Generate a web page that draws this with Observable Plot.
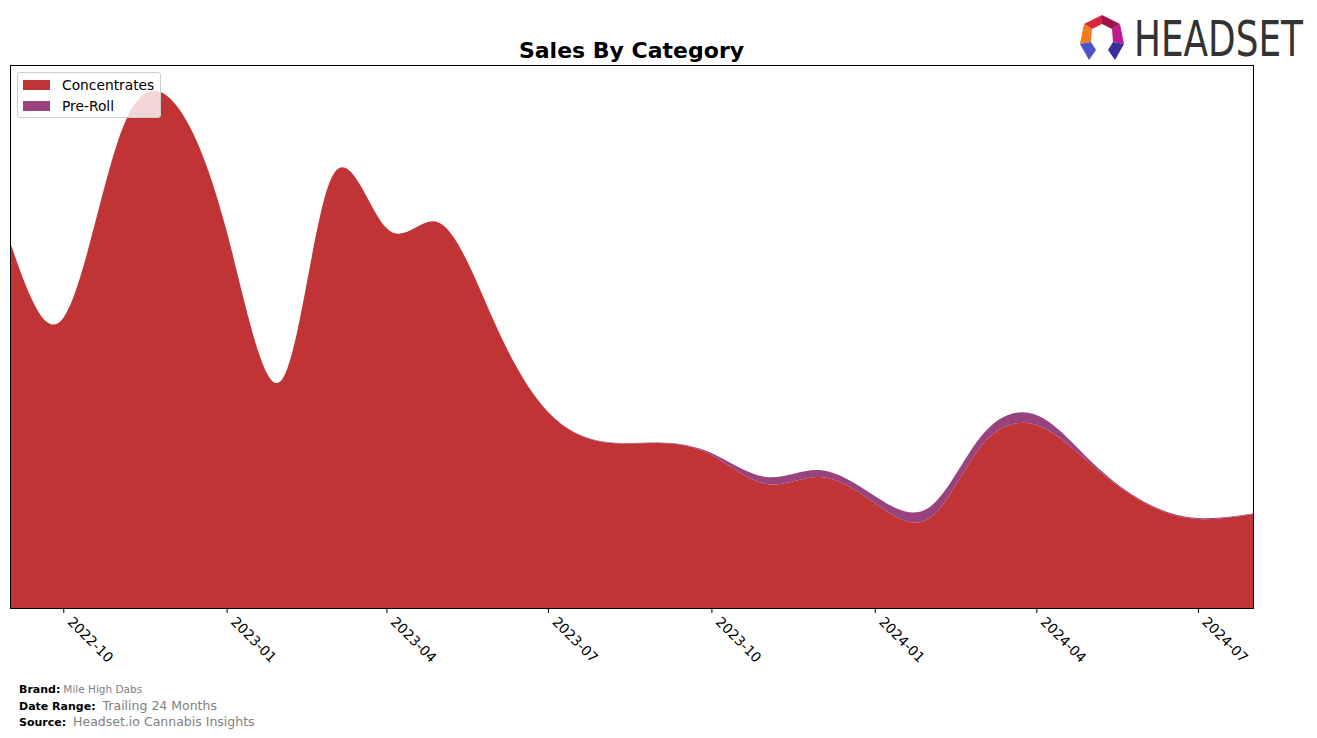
<!DOCTYPE html>
<html>
<head>
<meta charset="utf-8">
<script src="https://cdn.jsdelivr.net/npm/d3@7"></script>
<script src="https://cdn.jsdelivr.net/npm/@observablehq/plot@0.6"></script>
<style>
  html, body { margin: 0; padding: 0; background: #fff; }
  #wrap { position: relative; width: 1317px; height: 738px; font-family: "DejaVu Sans", sans-serif; overflow: hidden; }
  #chart { position: absolute; left: 0; top: 0; }
  #title { position: absolute; left: 10px; width: 1243px; top: 38px; text-align: center; font-weight: bold; font-size: 22px; color: #000; }
  #legend { position: absolute; left: 17px; top: 72px; width: 142px; height: 44px; background: rgba(255,255,255,0.8); border: 1px solid #ccc; border-radius: 3px; font-size: 13.8px; }
  .li { position: absolute; left: 5px; height: 16px; line-height: 16px; white-space: nowrap; }
  .sw { display: inline-block; width: 27px; height: 10px; vertical-align: middle; margin-right: 12px; position: relative; top: -1px; }
  #footer { position: absolute; left: 19px; top: 682px; font-size: 11px; line-height: 15.5px; }
  #footer b { color: #000; margin-right: 3px; }
  .g { color: #808080; }
  #logo { position: absolute; left: 1075px; top: 4px; }
</style>
</head>
<body>
<div id="wrap">
  <div id="chart"></div>
  <div id="title">Sales By Category</div>
  <div id="legend"></div>
  <div id="footer">
    <div><b>Brand:</b><span class="g" style="font-size:10.5px">Mile High Dabs</span></div>
    <div><b>Date Range:</b><span class="g" style="font-size:12.5px"> Trailing 24 Months</span></div>
    <div><b>Source:</b><span class="g" style="font-size:12.5px"> Headset.io Cannabis Insights</span></div>
  </div>
  <svg id="logo" width="240" height="64" viewBox="1075 4 240 64">
    <polygon points="1084,24 1102,15 1102,24 1092,29" fill="#d8263a"/>
    <polygon points="1102,15 1120,24 1112,29 1102,24" fill="#a0124a"/>
    <polygon points="1084,24 1092,29 1091,42 1080,44" fill="#f47a20"/>
    <polygon points="1120,24 1112,29 1113,42 1124,44" fill="#c01a8c"/>
    <polygon points="1080,44 1091,42 1096,50 1089,60" fill="#4a52c8"/>
    <polygon points="1124,44 1113,42 1108,50 1115,60" fill="#3b2f9e"/>
    <g transform="translate(1134,56) scale(1,1.24)">
      <text x="0" y="0" font-family="DejaVu Sans Condensed, DejaVu Sans" font-size="40" fill="#333" textLength="169" lengthAdjust="spacingAndGlyphs">HEADSET</text>
    </g>
  </svg>
</div>
<script>
const months = ["2022-09","2022-10","2022-11","2022-12","2023-01","2023-02","2023-03","2023-04","2023-05","2023-06","2023-07","2023-08","2023-09","2023-10","2023-11","2023-12","2024-01","2024-02","2024-03","2024-04","2024-05","2024-06","2024-07","2024-08"];
const concentrates = [366, 290, 468, 508, 377, 228, 430, 380, 385, 285, 196, 166, 165, 153, 124, 131, 105, 90, 162, 183, 145, 105, 89, 94];
const preRoll = [0, 0, 0, 0, 0, 0, 0, 0, 0, 0, 0, 0.5, 0.5, 2, 7, 7, 7, 11, 10, 10, 3, 1, 1, 0.5];
const categories = ["Concentrates", "Pre-Roll"];
const colors = ["#c13435", "#98427e"];
const tickLabels = ["2022-10","2023-01","2023-04","2023-07","2023-10","2024-01","2024-04","2024-07"];

const toDate = m => new Date(m + "-01T00:00:00Z");
const series = [concentrates, preRoll];
const data = months.flatMap((m, i) => categories.map((c, k) => ({date: toDate(m), category: c, value: series[k][i]})));
const tickDates = tickLabels.map(toDate);

const plot = Plot.plot({
  width: 1317,
  height: 738,
  marginTop: 65,
  marginBottom: 130,
  marginLeft: 10,
  marginRight: 64,
  style: {fontFamily: "DejaVu Sans", fontSize: "13.8px", color: "#000", background: "transparent"},
  x: {type: "utc", domain: [toDate(months[0]), toDate(months[months.length - 1])], label: null, axis: null},
  y: {domain: [0, 543], axis: null},
  color: {domain: categories, range: colors},
  marks: [
    Plot.areaY(data, {x: "date", y: "value", fill: "category", curve: "natural", order: categories}),
    Plot.frame({stroke: "#000", strokeWidth: 1}),
    Plot.axisX({ticks: tickDates, tickSize: 5, tickFormat: () => "", label: null, stroke: "#000"}),
    Plot.axisX({ticks: tickDates, tickSize: 0, tickFormat: d3.utcFormat("%Y-%m"), tickRotate: 45, tickPadding: 11, dx: 6, label: null, fill: "#000", fontSize: 13.8})
  ]
});
document.getElementById("chart").appendChild(plot);

const lg = document.getElementById("legend");
categories.forEach((c, k) => {
  const d = document.createElement("div");
  d.className = "li";
  d.style.top = (4 + k * 21) + "px";
  d.innerHTML = `<span class="sw" style="background:${colors[k]}"></span>${c}`;
  lg.appendChild(d);
});
</script>
</body>
</html>
